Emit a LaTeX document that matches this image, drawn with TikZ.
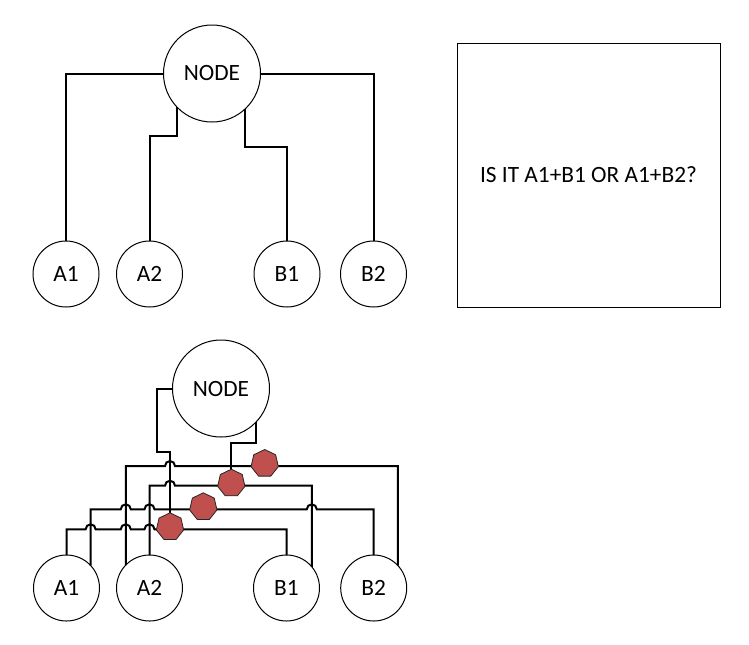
\documentclass[tikz,border=0pt]{standalone}
\usepackage{fontspec}
\setmainfont{Carlito}
\usetikzlibrary{shapes.geometric}
\definecolor{hepfill}{HTML}{C0504D}
\begin{document}
\begin{tikzpicture}[x=0.75pt,y=-0.75pt,
  lbl/.style={font=\fontsize{17.5}{20}\selectfont},
  circ/.style={circle,draw,line width=0.75pt,minimum size=49.5pt,inner sep=0pt,outer sep=0pt,lbl},
  bigc/.style={circ,minimum size=72.75pt},
  wire/.style={line width=1.5pt},
  hept/.style={regular polygon,regular polygon sides=7,minimum size=21pt,inner sep=0pt,outer sep=0pt,fill=hepfill,draw=black!85,line width=0.6pt},
  jump/.style={},
]
\useasboundingbox (0,0) rectangle (749,644);

% ---------- top diagram ----------
\node[bigc] (N1) at (212,73.5) {NODE};
\node[circ] (A1) at (66,274) {A1};
\node[circ] (A2) at (149.5,274) {A2};
\node[circ] (B1) at (287,274) {B1};
\node[circ] (B2) at (373.5,274) {B2};
\coordinate (kA2) at (149.5,136);
\coordinate (kB1) at (287,147);
\draw[wire] (N1.west) -| (A1.north);
\draw[wire] (N1.224) |- (kA2) -- (A2.north);
\draw[wire] (N1.313) |- (kB1) -- (B1.north);
\draw[wire] (N1.east) -| (B2.north);

\node[draw,line width=0.75pt,minimum width=197.25pt,minimum height=198pt,inner sep=0pt,lbl] (Q) at (588.5,175) {IS IT A1+B1 OR A1+B2?};

% ---------- bottom diagram ----------
\node[bigc] (N2) at (221,388.5) {NODE};
\node[circ] (C1) at (66.5,588) {A1};
\node[circ] (C2) at (149.5,588) {A2};
\node[circ] (D1) at (286.5,588) {B1};
\node[circ] (D2) at (373.7,588) {B2};

\coordinate (m1) at (156.7,388.5);
\coordinate (m2) at (170,452);
\coordinate (m3) at (231.3,443.3);
\coordinate (h1) at (170,526.8);
\coordinate (h2) at (203.3,506.8);
\coordinate (h3) at (231.3,483.2);
\coordinate (h4) at (264.7,463.5);

% node to heptagons
\draw[wire] (N2.west) -- (m1) |- (m2) -- (h1);
\draw[wire] (N2.316) |- (m3) -- (h3);

% A2 -> B2 (y=466)
\draw[wire] (C2.136) |- (165,466) arc[start angle=180,end angle=0,radius=3.75pt] -| (D2.43);
% A2 -> B1 (y=485.7)
\draw[wire] (C2.north) |- (165,485.7) arc[start angle=180,end angle=0,radius=3.75pt] -| (D1.40);
% A1 -> B2 (y=509.3)
\draw[wire] (C1.43) |- (120.76,509.3) arc[start angle=180,end angle=0,radius=3.75pt]
  -- (144.5,509.3) arc[start angle=180,end angle=0,radius=3.75pt]
  -- (306.78,509.3) arc[start angle=180,end angle=0,radius=3.75pt] -| (D2.north);
% A1 -> B1 (y=529.3)
\draw[wire] (C1.north) |- (85.63,529.3) arc[start angle=180,end angle=0,radius=3.75pt]
  -- (120.76,529.3) arc[start angle=180,end angle=0,radius=3.75pt]
  -- (144.5,529.3) arc[start angle=180,end angle=0,radius=3.75pt] -| (D1.north);

\node[hept] (H1) at (h1) {};
\node[hept] (H2) at (h2) {};
\node[hept] (H3) at (h3) {};
\node[hept] (H4) at (h4) {};
\end{tikzpicture}
\end{document}
